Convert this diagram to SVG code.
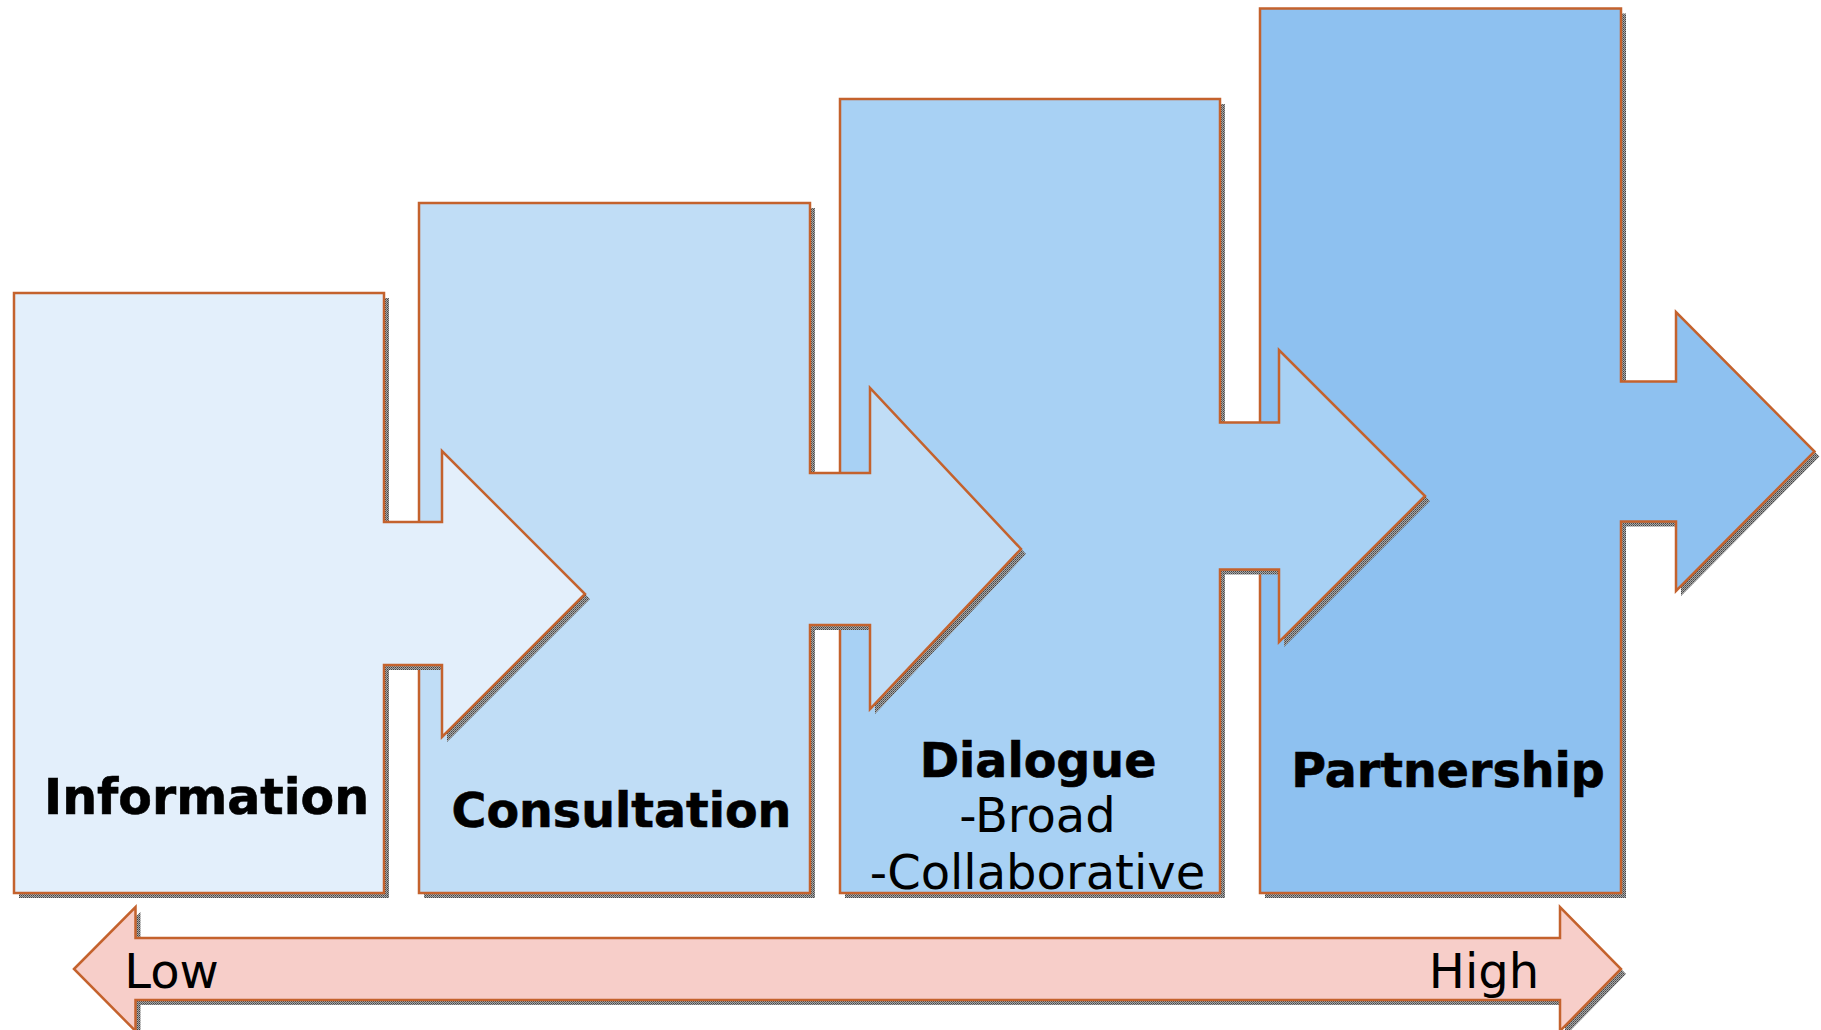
<svg xmlns="http://www.w3.org/2000/svg" width="1821" height="1030" viewBox="0 0 1821 1030">
<defs>
<pattern id="dither" width="2" height="2" patternUnits="userSpaceOnUse">
<rect width="2" height="2" fill="#a8a8a8"/>
<rect width="1" height="1" fill="#444"/>
<rect x="1" y="1" width="1" height="1" fill="#666"/>
</pattern>
</defs>
<style>
.shape{stroke:#C4622D;stroke-width:2.5;stroke-linejoin:miter}
.shadow{fill:url(#dither)}
.bold{font-family:"DejaVu Sans",Verdana,sans-serif;font-weight:bold;font-size:47.5px;fill:#000;stroke:#000;stroke-width:0.6;text-anchor:middle}
.norm{font-family:"DejaVu Sans",Verdana,sans-serif;font-size:48px;fill:#000;text-anchor:middle}
</style>
<rect width="1821" height="1030" fill="#fff"/>

<g id="partnership">
<path class="shadow" transform="translate(5,5)" d="M1260,8.5 H1621 V381.5 H1676 V312 L1814.5,451.5 L1676,591 V521.5 H1621 V893 H1260 Z"/>
<path class="shape" fill="#8EC1F0" d="M1260,8.5 H1621 V381.5 H1676 V312 L1814.5,451.5 L1676,591 V521.5 H1621 V893 H1260 Z"/>
<text class="bold" x="1448" y="787">Partnership</text>
</g>

<g id="dialogue">
<path class="shadow" transform="translate(5,5)" d="M840,99 H1220 V422.5 H1279 V350 L1425,496 L1279,642 V569.5 H1220 V893 H840 Z"/>
<path class="shape" fill="#A8D1F4" d="M840,99 H1220 V422.5 H1279 V350 L1425,496 L1279,642 V569.5 H1220 V893 H840 Z"/>
<text class="bold" x="1038" y="776.5">Dialogue</text>
<text class="norm" x="1037.5" y="832">-Broad</text>
<text class="norm" x="1037.5" y="889">-Collaborative</text>
</g>

<g id="consultation">
<path class="shadow" transform="translate(5,5)" d="M419,203 H810 V473 H870 V388 L1021,549 L870,709 V625 H810 V893 H419 Z"/>
<path class="shape" fill="#C0DDF6" d="M419,203 H810 V473 H870 V388 L1021,549 L870,709 V625 H810 V893 H419 Z"/>
<text class="bold" x="621.5" y="827">Consultation</text>
</g>

<g id="information">
<path class="shadow" transform="translate(5,5)" d="M14,293 H384 V522 H442 V451 L585,594 L442,737 V665 H384 V893 H14 Z"/>
<path class="shape" fill="#E3EFFB" d="M14,293 H384 V522 H442 V451 L585,594 L442,737 V665 H384 V893 H14 Z"/>
<text class="bold" x="206.5" y="814" style="font-size:49px">Information</text>
</g>

<g id="scale">
<path class="shadow" transform="translate(5,5)" d="M74,969 L135.5,907 V938 H1560 V907 L1621,969 L1560,1031 V1000 H135.5 V1031 Z"/>
<path class="shape" fill="#F7CEC9" d="M74,969 L135.5,907 V938 H1560 V907 L1621,969 L1560,1031 V1000 H135.5 V1031 Z"/>
<text class="norm" x="171.5" y="988">Low</text>
<text class="norm" x="1484" y="988">High</text>
</g>

<g id="connectors"></g>
</svg>
